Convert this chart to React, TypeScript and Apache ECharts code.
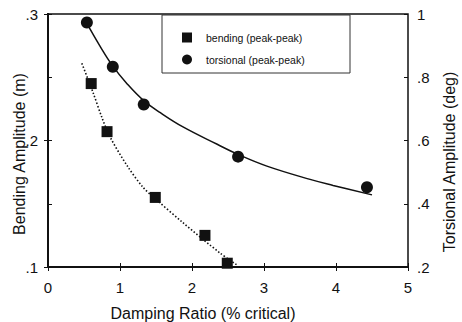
import React, { useEffect, useRef } from "react";
import * as echarts from "echarts";

// Measured points
const bendingDamping = [0.6, 0.82, 1.49, 2.18, 2.49];
const bendingAmplitude = [0.245, 0.207, 0.155, 0.125, 0.103];
const torsionalDamping = [0.54, 0.9, 1.33, 2.64, 4.43];
const torsionalAmplitude = [0.973, 0.833, 0.714, 0.549, 0.452];

// Fitted curves
const bendingFitDamping = [0.47, 0.625, 0.75, 0.86, 1.1, 1.32, 1.49, 1.875, 2.39, 2.64];
const bendingFitAmplitude = [0.261, 0.238, 0.218, 0.203, 0.18, 0.163, 0.154, 0.135, 0.111, 0.101];
const torsionalFitDamping = [0.54, 0.72, 0.9, 1.1, 1.33, 1.56, 1.875, 2.35, 2.64, 3.04, 3.64, 3.96, 4.5];
const torsionalFitAmplitude = [0.97, 0.899, 0.835, 0.779, 0.726, 0.688, 0.643, 0.588, 0.556, 0.519, 0.477, 0.458, 0.428];

// Axes
const xRange = [0, 5];
const xStep = 1;
const leftRange = [0.1, 0.3];
const leftStep = 0.1;
const rightRange = [0.2, 1];
const rightStep = 0.2;

const legendLabels = ["bending (peak-peak)", "torsional (peak-peak)"];
const xTitle = "Damping Ratio (% critical)";
const leftTitle = "Bending Amplitude (m)";
const rightTitle = "Torsional Amplitude (deg)";

const FONT = "'Liberation Sans', Arial, Helvetica, sans-serif";
const INK = "#111";

const fmt = (v: number) => {
  const s = String(+v.toFixed(1));
  return s.replace(/^0\./, ".");
};

export default function App() {
  const ref = useRef<HTMLDivElement>(null);
  useEffect(() => {
    if (!ref.current) return;
    const chart = echarts.init(ref.current, undefined, { renderer: "svg" });
    const tickAxisBase = {
      type: "value" as const,
      axisLine: { show: false },
      axisLabel: { show: false },
      splitLine: { show: false },
      axisTick: { show: true, inside: true, length: 4, lineStyle: { color: INK, width: 1 } },
    };
    const mainAxisCommon = {
      type: "value" as const,
      splitLine: { show: false },
      axisLine: { show: true, lineStyle: { color: INK, width: 2 } },
      axisTick: { show: true, inside: false, length: 4, lineStyle: { color: INK, width: 1 } },
    };
    chart.setOption({
      animation: false,
      backgroundColor: "#fff",
      textStyle: { fontFamily: FONT },
      grid: {
        left: 48,
        right: 54,
        top: 14,
        bottom: 55,
        show: true,
        borderColor: INK,
        borderWidth: 1.5,
        containLabel: false,
      },
      legend: {
        orient: "vertical",
        left: 177,
        top: 27,
        itemWidth: 10,
        itemHeight: 10,
        itemGap: 11,
        selectedMode: false,
        textStyle: { fontSize: 10.5, color: INK, fontFamily: FONT, padding: [0, 0, 0, 9] },
        data: [
          { name: legendLabels[0], icon: "rect", itemStyle: { color: INK, opacity: 1 } },
          { name: legendLabels[1], icon: "circle", itemStyle: { color: INK, opacity: 1 } },
        ],
      },
      xAxis: [
        {
          ...mainAxisCommon,
          min: xRange[0],
          max: xRange[1],
          interval: xStep,
          position: "bottom",
          axisLabel: { color: INK, fontSize: 15, margin: 13, fontFamily: FONT },
        },
        { ...tickAxisBase, min: xRange[0], max: xRange[1], interval: xStep, position: "bottom" },
      ],
      yAxis: [
        {
          ...mainAxisCommon,
          min: leftRange[0],
          max: leftRange[1],
          interval: leftStep,
          position: "left",
          axisLabel: { color: INK, fontSize: 15, margin: 10, fontFamily: FONT, formatter: fmt },
        },
        {
          ...mainAxisCommon,
          min: rightRange[0],
          max: rightRange[1],
          interval: rightStep,
          position: "right",
          axisLabel: { color: INK, fontSize: 15, margin: 9, fontFamily: FONT, formatter: fmt },
        },
        { ...tickAxisBase, min: leftRange[0], max: leftRange[1], interval: leftStep, position: "left" },
        { ...tickAxisBase, min: rightRange[0], max: rightRange[1], interval: rightStep, position: "right" },
      ],
      graphic: [
        {
          type: "rect",
          shape: { x: 162, y: 15, width: 188, height: 58 },
          style: { fill: "none", stroke: "#333", lineWidth: 1 },
          z: 10,
        },
        {
          type: "text",
          x: 203,
          y: 313,
          style: { text: xTitle, fontSize: 16, fontFamily: FONT, fill: INK, align: "center", verticalAlign: "middle" },
        },
        {
          type: "text",
          x: 19,
          y: 154,
          rotation: Math.PI / 2,
          style: { text: leftTitle, fontSize: 16, fontFamily: FONT, fill: INK, align: "center", verticalAlign: "middle" },
        },
        {
          type: "text",
          x: 449,
          y: 162,
          rotation: Math.PI / 2,
          style: { text: rightTitle, fontSize: 16, fontFamily: FONT, fill: INK, align: "center", verticalAlign: "middle" },
        },
      ],
      series: [
        {
          name: "bending fit",
          type: "line",
          xAxisIndex: 0,
          yAxisIndex: 0,
          data: bendingFitDamping.map((x, i) => [x, bendingFitAmplitude[i]]),
          showSymbol: false,
          symbol: "none",
          smooth: 0.3,
          lineStyle: { color: INK, width: 1.6, type: [1.5, 2] },
          silent: true,
        },
        {
          name: "torsional fit",
          type: "line",
          xAxisIndex: 0,
          yAxisIndex: 1,
          data: torsionalFitDamping.map((x, i) => [x, torsionalFitAmplitude[i]]),
          showSymbol: false,
          symbol: "none",
          smooth: 0.4,
          lineStyle: { color: INK, width: 1.5 },
          silent: true,
        },
        {
          name: legendLabels[0],
          type: "scatter",
          xAxisIndex: 0,
          yAxisIndex: 0,
          symbol: "rect",
          symbolSize: 11,
          itemStyle: { color: INK, opacity: 1 },
          data: bendingDamping.map((x, i) => [x, bendingAmplitude[i]]),
          z: 5,
        },
        {
          name: legendLabels[1],
          type: "scatter",
          xAxisIndex: 0,
          yAxisIndex: 1,
          symbol: "circle",
          symbolSize: 12,
          itemStyle: { color: INK, opacity: 1 },
          data: torsionalDamping.map((x, i) => [x, torsionalAmplitude[i]]),
          z: 5,
        },
      ],
    });
    return () => chart.dispose();
  }, []);
  return (
    <div
      ref={ref}
      style={{ position: "absolute", left: 0, top: 0, width: 462, height: 322, background: "#fff" }}
    />
  );
}
